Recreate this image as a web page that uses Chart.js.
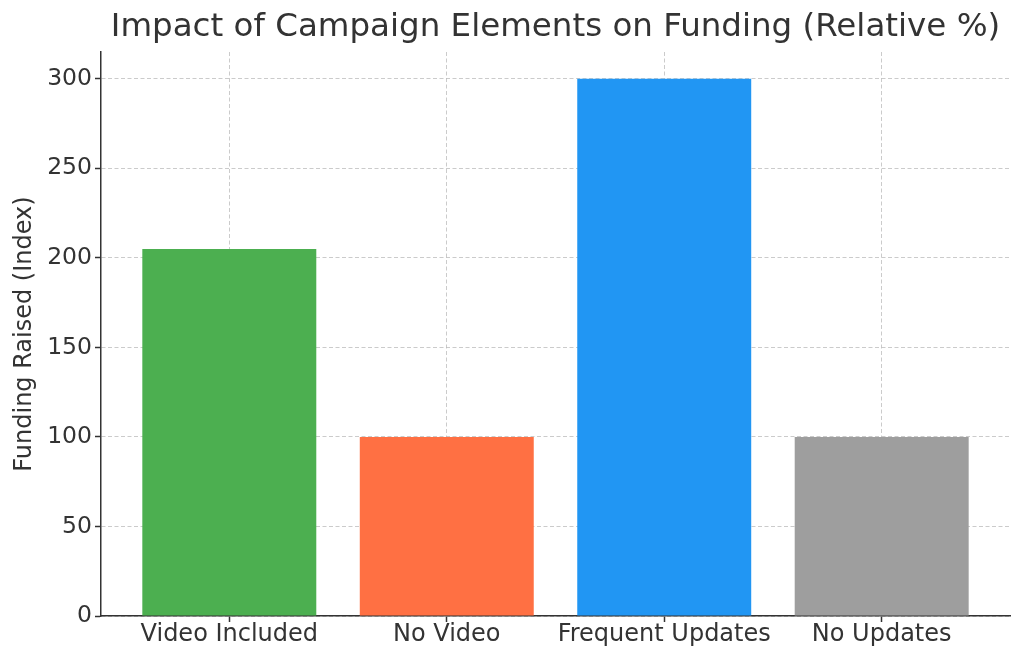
<!DOCTYPE html>
<html>
<head>
<meta charset="utf-8">
<script src="https://cdn.jsdelivr.net/npm/chart.js@4"></script>
<style>
  html, body { margin: 0; padding: 0; background: #fff; }
  #wrap { width: 1024px; height: 662px; }
</style>
</head>
<body>
<div id="wrap"><canvas id="myChart" width="1024" height="662"></canvas></div>
<script>
var categories = ["Video Included", "No Video", "Frequent Updates", "No Updates"];
var fundingValues = [205, 100, 300, 100];
var barColors = ["#4CAF50", "#FF7043", "#2196F3", "#9E9E9E"];
var yTicks = [0, 50, 100, 150, 200, 250, 300];
var titleText = "Impact of Campaign Elements on Funding (Relative %)";

var font = "'DejaVu Sans', sans-serif";

// title centred over the plot area, like matplotlib does
var titlePlugin = {
  id: "plotTitle",
  afterDraw: function (chart) {
    var ctx = chart.ctx
    var area = chart.chartArea
    ctx.save()
    ctx.font = "32.5px " + font
    ctx.fillStyle = "#333"
    ctx.textAlign = "center"
    ctx.textBaseline = "middle"
    ctx.fillText(titleText, (area.left + area.right) / 2, 28)
    ctx.restore()
  }
}

new Chart("myChart", {
  type: "bar",
  data: {
    datasets: [{
      data: fundingValues.map(function (v, i) { return { x: i, y: v } }),
      backgroundColor: barColors,
      barPercentage: 0.8,
      categoryPercentage: 1.0
    }]
  },
  plugins: [titlePlugin],
  options: {
    responsive: false,
    animation: false,
    layout: { padding: { top: 52, right: 14, left: 0, bottom: 0 } },
    plugins: {
      legend: { display: false },
      tooltip: { enabled: false }
    },
    scales: {
      x: {
        type: "linear",
        offset: false,
        min: -0.59,
        max: 3.59,
        z: 1,
        afterBuildTicks: function (s) {
          s.ticks = categories.map(function (c, i) { return { value: i } })
        },
        afterFit: function (s) { s.height = 46 },
        ticks: {
          autoSkip: false,
          maxRotation: 0,
          padding: -2,
          color: "#333",
          font: { family: font, size: 24 },
          callback: function (v) { return categories[v] }
        },
        grid: {
          offset: false,
          color: "rgba(185,185,185,0.75)",
          lineWidth: 1,
          tickLength: 6,
          tickWidth: 1.5,
          tickColor: "#333"
        },
        border: { color: "#333", width: 1.5, dash: [4, 2.5] }
      },
      y: {
        min: 0,
        max: 315,
        z: 1,
        afterBuildTicks: function (s) {
          s.ticks = yTicks.map(function (v) { return { value: v } })
        },
        afterFit: function (s) { s.width = 101 },
        ticks: {
          padding: 3,
          color: "#333",
          font: { family: font, size: 23.5 }
        },
        grid: {
          color: "rgba(185,185,185,0.75)",
          lineWidth: 1,
          tickLength: 6,
          tickWidth: 1.5,
          tickColor: "#333"
        },
        border: { color: "#333", width: 1.5, dash: [4, 2.5] },
        title: {
          display: true,
          text: "Funding Raised (Index)",
          color: "#333",
          font: { family: font, size: 24, lineHeight: 1.2 },
          padding: { top: 10, bottom: 0 }
        }
      }
    }
  }
});
</script>
</body>
</html>
